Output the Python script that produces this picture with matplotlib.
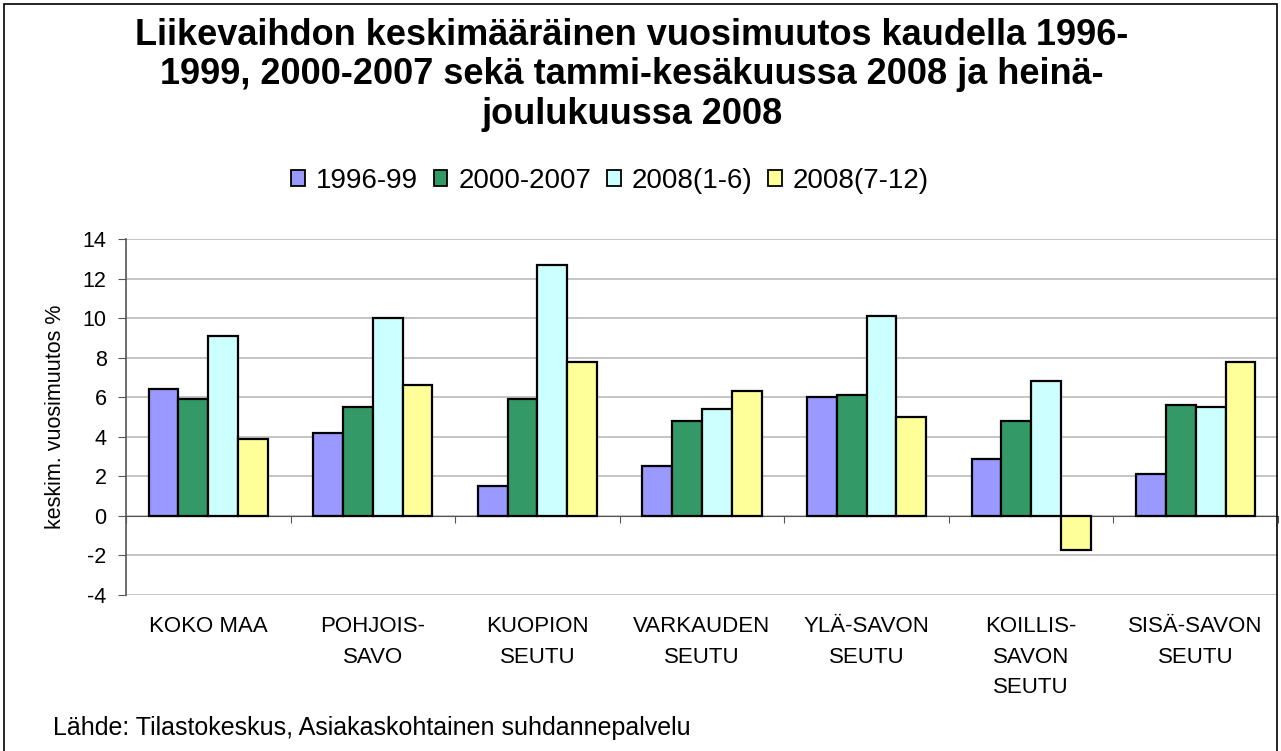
import matplotlib.pyplot as plt
import numpy as np
from matplotlib.patches import Patch, Rectangle

plt.rcParams['font.family'] = ['Liberation Sans', 'DejaVu Sans']
plt.rcParams['axes.unicode_minus'] = False

categories = ["KOKO MAA", "POHJOIS-\nSAVO", "KUOPION\nSEUTU", "VARKAUDEN\nSEUTU",
              "YLÄ-SAVON\nSEUTU", "KOILLIS-\nSAVON\nSEUTU", "SISÄ-SAVON\nSEUTU"]
series_names = ["1996-99", "2000-2007", "2008(1-6)", "2008(7-12)"]
v_1996_99 = [6.4, 4.2, 1.5, 2.5, 6.0, 2.9, 2.1]
v_2000_2007 = [5.9, 5.5, 5.9, 4.8, 6.1, 4.8, 5.6]
v_2008_1_6 = [9.1, 10.0, 12.7, 5.4, 10.1, 6.8, 5.5]
v_2008_7_12 = [3.9, 6.6, 7.8, 6.3, 5.0, -1.7, 7.8]
colors = ["#9999FF", "#339966", "#CCFFFF", "#FFFF99"]

title = ("Liikevaihdon keskimääräinen vuosimuutos kaudella 1996-\n"
         "1999, 2000-2007 sekä tammi-kesäkuussa 2008 ja heinä-\n"
         "joulukuussa 2008")

W, H = 1281, 751
fig = plt.figure(figsize=(W / 100, H / 100), dpi=100)
ax = fig.add_axes([126 / W, 1 - 595 / H, (1278 - 126) / W, (595 - 239) / H])

x = np.arange(len(categories)) + 0.5
bw = 0.181
all_vals = [v_1996_99, v_2000_2007, v_2008_1_6, v_2008_7_12]
for i, vals in enumerate(all_vals):
    ax.bar(x + (i - 1.5) * bw, vals, bw, color=colors[i], edgecolor="black",
           linewidth=1.6, zorder=3)

ax.set_xlim(0, len(categories))
ax.set_ylim(-4, 14)
ax.set_yticks(np.arange(-4, 15, 2))
ax.yaxis.grid(True, color="#BBBBBB", linewidth=1.2, zorder=0)
ax.tick_params(axis='y', direction='out', length=6, color="#555555", labelsize=15.5, pad=8)
ax.set_xticks(np.arange(0, len(categories) + 1))
ax.tick_params(axis='x', direction='out', length=5, color="#555555", labelbottom=False)
ax.spines['bottom'].set_position(('data', 0))
ax.spines['bottom'].set_color("#555555")
ax.spines['left'].set_color("#555555")
ax.spines['left'].set_linewidth(1.2)
ax.spines['top'].set_visible(False)
ax.spines['right'].set_visible(False)

for xi, lab in zip(x, categories):
    ax.text(xi, -0.06, lab, transform=ax.get_xaxis_transform(), ha='center', va='top',
            fontsize=16, linespacing=1.58)

ax.set_ylabel("keskim. vuosimuutos %", fontsize=15.5, labelpad=12)

handles = [Patch(facecolor=c, edgecolor="black", linewidth=1.3) for c in colors]
fig.legend(handles, series_names, loc='center', bbox_to_anchor=(610 / W, 1 - 181 / H),
           ncol=4, frameon=False, fontsize=20, handlelength=0.5, handleheight=0.5,
           handletextpad=0.4, columnspacing=0.55)

fig.text(632 / W, 1 - 75 / H, title, ha='center', va='center', fontsize=26,
         fontweight='bold', linespacing=1.15)

fig.text(53 / W, 1 - 728 / H, "Lähde: Tilastokeskus, Asiakaskohtainen suhdannepalvelu",
         ha='left', va='center', fontsize=18)

fig.patches.append(Rectangle((4 / W, -0.05), (1277 - 4) / W, 1 - 4 / H + 0.05,
                             transform=fig.transFigure, fill=False, edgecolor="black",
                             linewidth=1.2))

fig.savefig("out.png", dpi=100)
